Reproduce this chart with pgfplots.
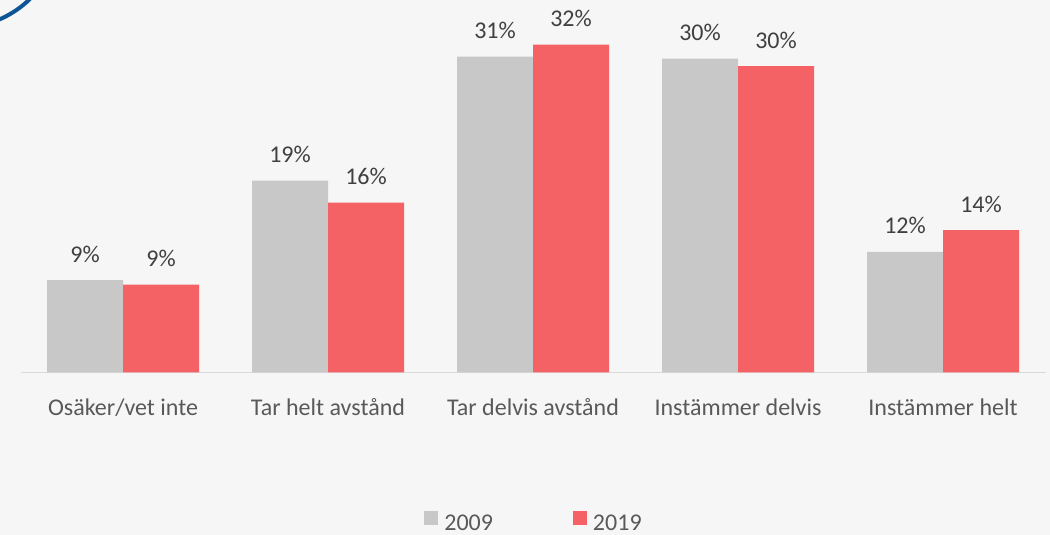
\documentclass[border=0pt]{standalone}
\usepackage{pgfplots}
\pgfplotsset{compat=1.18}
\usepackage{fontspec}
\setmainfont{Carlito}
\definecolor{cgray}{HTML}{C8C8C8}
\definecolor{cred}{HTML}{F56265}
\definecolor{ctext}{HTML}{595959}
\definecolor{clabel}{HTML}{404040}
\definecolor{cline}{HTML}{D9D9D9}
\definecolor{cbg}{HTML}{F6F6F6}
\definecolor{cblue}{HTML}{0E5596}
\begin{document}
\begin{tikzpicture}
\fill[cbg] (0,0) rectangle (525pt,267.5pt);
\begin{scope}
\clip (0,0) rectangle (525pt,267.5pt);
\draw[cblue, line width=2pt] (-20pt,303.75pt) circle (50pt);
\end{scope}
\begin{axis}[
  at={(10.25pt,81.25pt)}, anchor=south west,
  scale only axis, width=512.5pt, height=180.775pt,
  xmin=-0.5, xmax=4.5, ymin=0, ymax=35,
  axis y line=none, axis x line*=bottom,
  x axis line style={draw=cline, line width=0.75pt},
  ybar=0pt, bar width=38pt,
  xtick={0,1,2,3,4},
  xticklabels={Osäker/vet inte, Tar helt avstånd, Tar delvis avstånd, Instämmer delvis, Instämmer helt},
  major tick length=0pt,
  xticklabel style={anchor=base, yshift=-21.75pt, inner sep=0pt, text=ctext, font=\fontsize{12}{14}\selectfont},
  nodes near coords, point meta=explicit symbolic,
  every node near coord/.append style={anchor=base, yshift=9pt, inner sep=0pt, text=clabel, font=\fontsize{12}{14}\selectfont},
  clip=false,
  legend columns=2,
  legend image code/.code={\fill[#1] (0pt,-0.35pt) rectangle (7pt,6.65pt);},
  legend style={at={(axis cs:2,0)}, anchor=north, xshift=1pt, yshift=-67.15pt,
    draw=none, fill=none, font=\fontsize{12}{14}\selectfont, text=ctext,
    /tikz/every odd column/.append style={column sep=1pt},
    /tikz/every even column/.append style={column sep=38pt}},
]
\addplot[fill=cgray, draw=none] coordinates {
  (0,8.93) [9\%] (1,18.57) [19\%] (2,30.57) [31\%] (3,30.38) [30\%] (4,11.67) [12\%]};
\addplot[fill=cred, draw=none] coordinates {
  (0,8.50) [9\%] (1,16.44) [16\%] (2,31.73) [32\%] (3,29.67) [30\%] (4,13.79) [14\%]};
\legend{2009,2019}
\end{axis}
\pgfresetboundingbox
\useasboundingbox (0,0) rectangle (525pt,267.5pt);
\end{tikzpicture}
\end{document}
